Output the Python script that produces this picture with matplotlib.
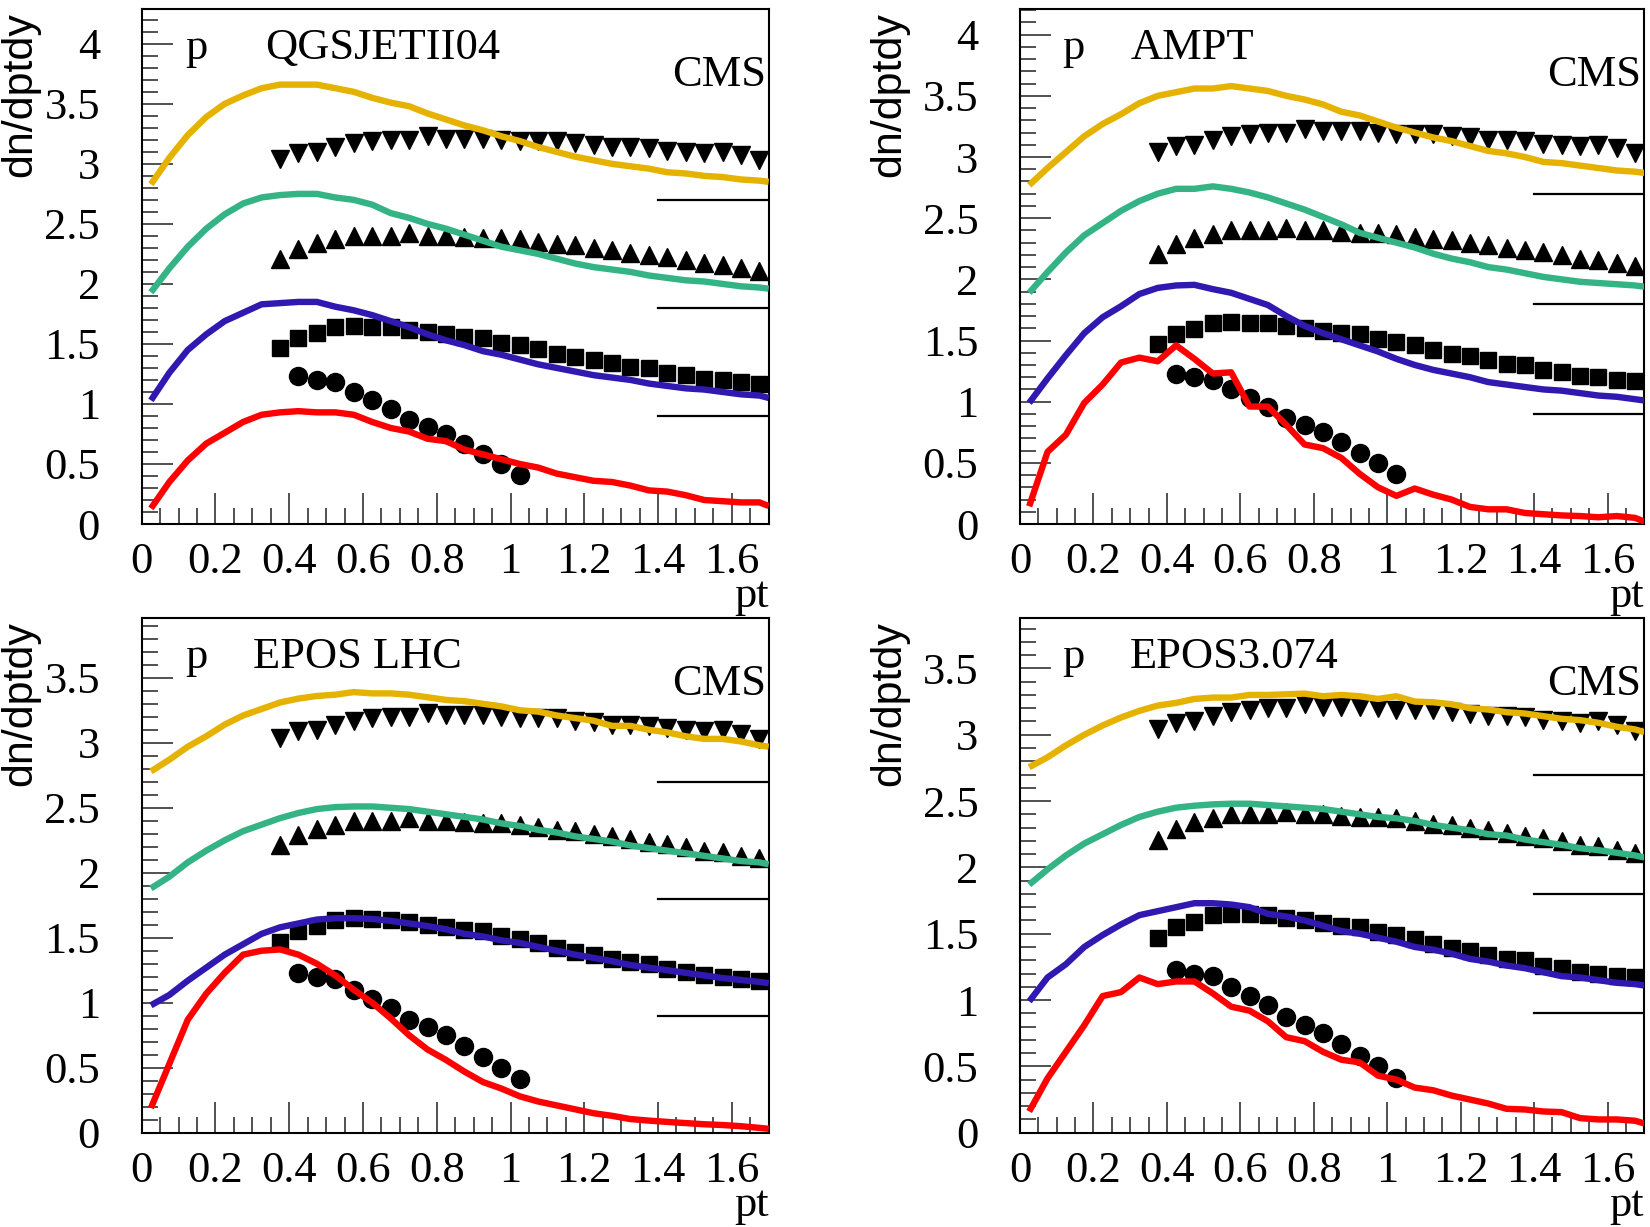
import matplotlib
matplotlib.use("Agg")
import matplotlib.pyplot as plt
from matplotlib.ticker import MultipleLocator, FuncFormatter

# ---------------- data ----------------
PT_MODEL = [0.025, 0.075, 0.125, 0.175, 0.225, 0.275, 0.325, 0.375, 0.425, 0.475,
            0.525, 0.575, 0.625, 0.675, 0.725, 0.775, 0.825, 0.875, 0.925, 0.975,
            1.025, 1.075, 1.125, 1.175, 1.225, 1.275, 1.325, 1.375, 1.425, 1.475,
            1.525, 1.575, 1.625, 1.675, 1.7]

PT_CIRCLE = [0.425, 0.475, 0.525, 0.575, 0.625, 0.675, 0.725, 0.775, 0.825, 0.875,
             0.925, 0.975, 1.025]
CIRCLE = [1.23, 1.20, 1.18, 1.10, 1.03, 0.96, 0.87, 0.81, 0.75, 0.67, 0.58, 0.50, 0.41]

PT_DATA = [0.375, 0.425, 0.475, 0.525, 0.575, 0.625, 0.675, 0.725, 0.775, 0.825,
           0.875, 0.925, 0.975, 1.025, 1.075, 1.125, 1.175, 1.225, 1.275, 1.325,
           1.375, 1.425, 1.475, 1.525, 1.575, 1.625, 1.675]
SQUARE = [1.47, 1.55, 1.59, 1.64, 1.65, 1.645, 1.64, 1.62, 1.60, 1.58, 1.56, 1.55, 1.51,
          1.49, 1.46, 1.42, 1.39, 1.37, 1.34, 1.31, 1.30, 1.26, 1.24, 1.21, 1.20, 1.18, 1.17]
TRI_UP = [2.21, 2.29, 2.34, 2.37, 2.40, 2.40, 2.40, 2.42, 2.40, 2.40, 2.39, 2.38, 2.38,
          2.37, 2.35, 2.33, 2.32, 2.30, 2.28, 2.26, 2.24, 2.22, 2.20, 2.17, 2.16, 2.13, 2.11]
TRI_DOWN = [3.04, 3.09, 3.10, 3.14, 3.17, 3.19, 3.20, 3.20, 3.23, 3.21, 3.21, 3.21, 3.20,
            3.19, 3.19, 3.19, 3.17, 3.16, 3.14, 3.14, 3.13, 3.11, 3.10, 3.09, 3.10, 3.07, 3.03]

# reference short lines (pt range and levels)
REF_PT = [1.4, 1.7]
REF_LEVELS = [2.7, 1.8, 0.9]

# QGSJETII04
QGS_RED = [0.13, 0.35, 0.53, 0.67, 0.76, 0.85, 0.91, 0.93, 0.94, 0.93, 0.93, 0.91, 0.85,
           0.80, 0.77, 0.71, 0.69, 0.62, 0.58, 0.54, 0.50, 0.47, 0.42, 0.39, 0.36, 0.35,
           0.32, 0.28, 0.27, 0.24, 0.20, 0.19, 0.18, 0.18, 0.15]
QGS_BLUE = [1.03, 1.26, 1.45, 1.58, 1.69, 1.76, 1.83, 1.84, 1.85, 1.85, 1.81, 1.78, 1.74,
            1.69, 1.64, 1.58, 1.53, 1.49, 1.44, 1.41, 1.37, 1.33, 1.30, 1.27, 1.24, 1.22,
            1.20, 1.17, 1.15, 1.13, 1.12, 1.10, 1.08, 1.07, 1.05]
QGS_GREEN = [1.93, 2.13, 2.31, 2.46, 2.58, 2.67, 2.72, 2.74, 2.75, 2.75, 2.72, 2.70, 2.66,
             2.59, 2.55, 2.50, 2.46, 2.41, 2.36, 2.31, 2.28, 2.25, 2.21, 2.17, 2.14, 2.12,
             2.10, 2.07, 2.05, 2.03, 2.02, 2.00, 1.98, 1.97, 1.96]
QGS_ORANGE = [2.83, 3.05, 3.24, 3.39, 3.50, 3.57, 3.63, 3.66, 3.66, 3.66, 3.63, 3.60, 3.55,
              3.51, 3.48, 3.42, 3.37, 3.32, 3.28, 3.23, 3.19, 3.14, 3.10, 3.06, 3.03, 3.00,
              2.98, 2.96, 2.93, 2.92, 2.90, 2.89, 2.87, 2.86, 2.85]

# AMPT
AMPT_RED = [0.145, 0.59, 0.73, 0.99, 1.14, 1.32, 1.36, 1.33, 1.46, 1.35, 1.23, 1.24, 0.96,
            0.96, 0.81, 0.65, 0.62, 0.54, 0.41, 0.30, 0.23, 0.29, 0.24, 0.20, 0.14, 0.12,
            0.12, 0.09, 0.08, 0.07, 0.065, 0.055, 0.065, 0.05, 0.02]
AMPT_BLUE = [0.99, 1.19, 1.38, 1.56, 1.69, 1.78, 1.88, 1.93, 1.95, 1.955, 1.92, 1.89, 1.84,
             1.79, 1.70, 1.62, 1.56, 1.51, 1.46, 1.41, 1.35, 1.30, 1.26, 1.23, 1.20, 1.16,
             1.14, 1.12, 1.10, 1.09, 1.07, 1.05, 1.04, 1.02, 1.01]
AMPT_GREEN = [1.89, 2.06, 2.22, 2.36, 2.46, 2.56, 2.64, 2.70, 2.74, 2.74, 2.76, 2.74, 2.71,
              2.67, 2.62, 2.57, 2.51, 2.45, 2.38, 2.34, 2.30, 2.26, 2.21, 2.17, 2.14, 2.10,
              2.08, 2.05, 2.02, 2.00, 1.98, 1.97, 1.96, 1.95, 1.94]
AMPT_ORANGE = [2.77, 2.91, 3.04, 3.17, 3.27, 3.35, 3.44, 3.50, 3.53, 3.56, 3.56, 3.58, 3.56,
               3.54, 3.50, 3.47, 3.43, 3.37, 3.34, 3.29, 3.24, 3.20, 3.16, 3.13, 3.09, 3.05,
               3.03, 3.00, 2.96, 2.95, 2.93, 2.91, 2.89, 2.88, 2.87]

# EPOS LHC
LHC_RED = [0.19, 0.53, 0.87, 1.07, 1.23, 1.37, 1.40, 1.41, 1.37, 1.30, 1.21, 1.10, 1.00,
           0.88, 0.75, 0.64, 0.56, 0.47, 0.39, 0.34, 0.28, 0.24, 0.21, 0.18, 0.15, 0.13,
           0.105, 0.093, 0.083, 0.074, 0.065, 0.059, 0.05, 0.037, 0.03]
LHC_BLUE = [0.98, 1.06, 1.17, 1.27, 1.37, 1.45, 1.53, 1.58, 1.61, 1.64, 1.65, 1.65, 1.645,
            1.63, 1.61, 1.59, 1.565, 1.53, 1.51, 1.48, 1.46, 1.43, 1.40, 1.37, 1.345, 1.32,
            1.29, 1.27, 1.25, 1.23, 1.21, 1.19, 1.175, 1.16, 1.15]
LHC_GREEN = [1.88, 1.97, 2.08, 2.17, 2.25, 2.32, 2.37, 2.42, 2.46, 2.49, 2.505, 2.51, 2.51,
             2.50, 2.49, 2.47, 2.45, 2.43, 2.41, 2.38, 2.36, 2.33, 2.31, 2.28, 2.26, 2.24,
             2.21, 2.19, 2.17, 2.15, 2.13, 2.11, 2.09, 2.08, 2.065]
LHC_ORANGE = [2.78, 2.87, 2.97, 3.05, 3.14, 3.21, 3.26, 3.31, 3.34, 3.36, 3.37, 3.39, 3.38,
              3.38, 3.37, 3.35, 3.33, 3.32, 3.30, 3.28, 3.25, 3.24, 3.21, 3.19, 3.17, 3.13,
              3.13, 3.10, 3.08, 3.05, 3.03, 3.03, 3.01, 2.98, 2.97]

# EPOS3.074
E3_RED = [0.16, 0.41, 0.61, 0.81, 1.03, 1.06, 1.17, 1.12, 1.14, 1.14, 1.05, 0.95, 0.92,
          0.84, 0.72, 0.69, 0.61, 0.55, 0.53, 0.43, 0.40, 0.34, 0.32, 0.28, 0.25, 0.22,
          0.18, 0.175, 0.16, 0.155, 0.11, 0.10, 0.10, 0.09, 0.07]
E3_BLUE = [0.99, 1.17, 1.27, 1.40, 1.49, 1.57, 1.64, 1.67, 1.70, 1.73, 1.73, 1.72, 1.70,
           1.65, 1.63, 1.60, 1.56, 1.52, 1.50, 1.47, 1.44, 1.40, 1.38, 1.35, 1.31, 1.29,
           1.26, 1.24, 1.21, 1.18, 1.17, 1.15, 1.13, 1.12, 1.11]
E3_GREEN = [1.87, 1.985, 2.09, 2.18, 2.25, 2.32, 2.38, 2.42, 2.45, 2.465, 2.475, 2.48, 2.48,
            2.47, 2.46, 2.45, 2.44, 2.42, 2.40, 2.38, 2.37, 2.35, 2.32, 2.30, 2.28, 2.25,
            2.24, 2.21, 2.19, 2.17, 2.145, 2.13, 2.11, 2.09, 2.075]
E3_ORANGE = [2.755, 2.83, 2.92, 3.00, 3.07, 3.13, 3.18, 3.22, 3.24, 3.27, 3.28, 3.28, 3.30,
             3.30, 3.305, 3.31, 3.29, 3.30, 3.29, 3.27, 3.29, 3.25, 3.245, 3.23, 3.20, 3.19,
             3.17, 3.16, 3.14, 3.12, 3.11, 3.09, 3.06, 3.04, 3.02]

MODEL_NAMES = ["QGSJETII04", "AMPT", "EPOS LHC", "EPOS3.074"]
MODEL_CURVES = [
    [QGS_RED, QGS_BLUE, QGS_GREEN, QGS_ORANGE],
    [AMPT_RED, AMPT_BLUE, AMPT_GREEN, AMPT_ORANGE],
    [LHC_RED, LHC_BLUE, LHC_GREEN, LHC_ORANGE],
    [E3_RED, E3_BLUE, E3_GREEN, E3_ORANGE],
]
Y_MAX = [4.29, 4.21, 3.96, 3.88]

# ---------------- style ----------------
CURVE_COLORS = ["#FF0000", "#3019B0", "#34B385", "#E6B200"]
SERIF = "Liberation Serif"
SANS = "Liberation Sans"
FS = 32

W, H = 1650, 1227
fig = plt.figure(figsize=(W / 100, H / 100), dpi=100)

# axes rectangles in pixels: left, top, right, bottom
RECTS = [
    (141.7, 9.0, 768.7, 524.0),
    (1020.0, 9.0, 1644.3, 524.0),
    (141.7, 618.0, 768.7, 1132.7),
    (1020.0, 618.0, 1644.3, 1132.7),
]
YLABEL_X = [20.0, 889.0, 20.0, 889.0]
P_X = [185.6, 1062.0, 185.6, 1062.0]
NAME_X = [265.6, 1130.8, 252.8, 1129.7]


def fmt(v, pos):
    return "%g" % round(v, 3)


for i in range(4):
    l, t, r, b = RECTS[i]
    ax = fig.add_axes([l / W, 1 - b / H, (r - l) / W, (b - t) / H])
    ax.set_xlim(0, 1.7)
    ax.set_ylim(0, Y_MAX[i])

    # data markers
    ax.plot(PT_CIRCLE, CIRCLE, "o", color="black", ms=13, mec="black", zorder=3)
    ax.plot(PT_DATA, SQUARE, "s", color="black", ms=12, mec="black", zorder=3)
    ax.plot(PT_DATA, TRI_UP, "^", color="black", ms=13, mec="black", zorder=3)
    ax.plot(PT_DATA, TRI_DOWN, "v", color="black", ms=13, mec="black", zorder=3)

    # model curves
    for curve, col in zip(MODEL_CURVES[i], CURVE_COLORS):
        ax.plot(PT_MODEL, curve, "-", color=col, lw=4.6, zorder=4,
                solid_capstyle="butt", solid_joinstyle="round", clip_on=True)

    for lev in REF_LEVELS:
        ax.plot(REF_PT, [lev, lev], "-", color="black", lw=1.6, zorder=2)

    # ticks
    ax.xaxis.set_major_locator(MultipleLocator(0.2))
    ax.xaxis.set_minor_locator(MultipleLocator(0.05))
    ax.yaxis.set_major_locator(MultipleLocator(0.5))
    ax.yaxis.set_minor_locator(MultipleLocator(0.1))
    ax.xaxis.set_major_formatter(FuncFormatter(fmt))
    ax.yaxis.set_major_formatter(FuncFormatter(fmt))
    ax.tick_params(axis="both", which="both", direction="in", top=False, right=False,
                   color="#222222")
    ax.tick_params(axis="both", which="major", length=22.5, width=1.1)
    ax.tick_params(axis="both", which="minor", length=11.5, width=1.1)
    ax.tick_params(axis="x", which="major", pad=13)
    ax.tick_params(axis="y", which="major", pad=30)
    for lab in ax.get_xticklabels() + ax.get_yticklabels():
        lab.set_fontfamily(SERIF)
        lab.set_fontsize(FS)
    for sp in ax.spines.values():
        sp.set_linewidth(1.5)
        sp.set_color("black")

    # axis titles
    ax.text(1.0, -(607 - 524.0) / (b - t), "pt", transform=ax.transAxes,
            ha="right", va="baseline", fontfamily=SERIF, fontsize=FS)
    ax.text((YLABEL_X[i] - l) / (r - l), 1.0 - 3.0 / (b - t), "dn/dptdy",
            transform=ax.transAxes, rotation=90, ha="center", va="top",
            fontfamily=SANS, fontsize=31)

    # annotations
    base = 1 - 50.0 / (b - t)
    ax.text((P_X[i] - l) / (r - l), base, "p", transform=ax.transAxes,
            ha="left", va="baseline", fontfamily=SERIF, fontsize=FS)
    ax.text((NAME_X[i] - l) / (r - l), base, MODEL_NAMES[i], transform=ax.transAxes,
            ha="left", va="baseline", fontfamily=SERIF, fontsize=FS)
    ax.text(1 - 3.0 / (r - l), 1 - 77.0 / (b - t), "CMS", transform=ax.transAxes,
            ha="right", va="baseline", fontfamily=SERIF, fontsize=FS)

fig.savefig("out.png", dpi=100)
